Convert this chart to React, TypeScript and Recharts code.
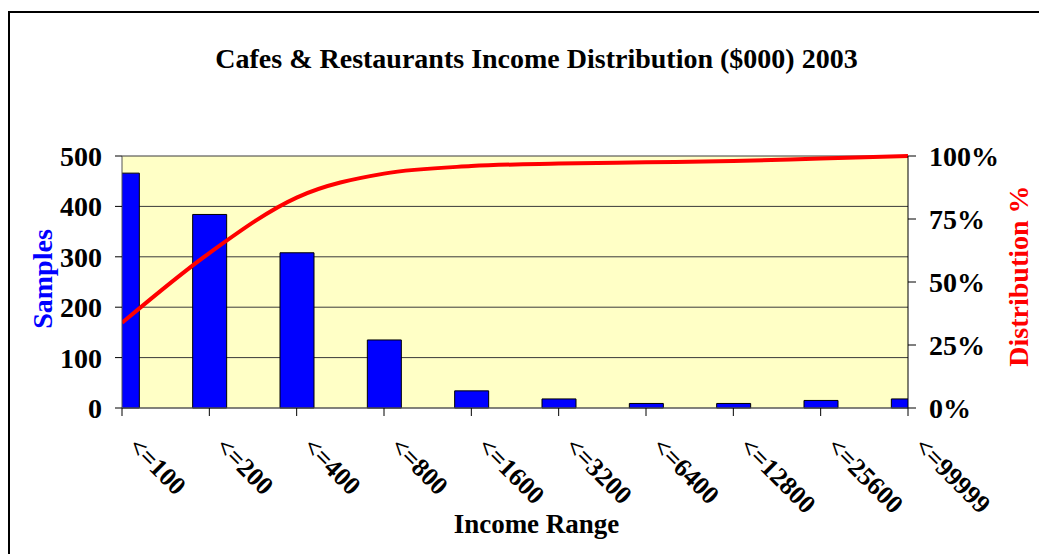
import React from 'react';
import { ComposedChart, Bar, Line, XAxis, YAxis, CartesianGrid } from 'recharts';

const RANGES = ['<=100', '<=200', '<=400', '<=800', '<=1600', '<=3200', '<=6400', '<=12800', '<=25600', '<=99999'];
const SAMPLES = [466, 384, 308, 135, 34, 18, 9, 9, 15, 18];
const DISTRIBUTION = [33.8, 61.5, 83.5, 93, 96, 97, 97.5, 98, 99, 100];
const LEFT_TICKS = [0, 100, 200, 300, 400, 500];
const RIGHT_TICKS = [0, 25, 50, 75, 100];
const X_TICKS = RANGES.map((_, i) => i);

const FONT = '"Liberation Serif", "Times New Roman", serif';

const data = RANGES.map((range, i) => ({
  i,
  range,
  samples: SAMPLES[i],
  dist: DISTRIBUTION[i],
}));

const tickStyle = { fontSize: 28, fontWeight: 'bold', fill: '#000', fontFamily: FONT };

function RangeTick({ x, y, payload }: any) {
  return (
    <g transform={`translate(${x + 5},${y + 30})`}>
      <text
        x={0}
        y={0}
        transform="rotate(45)"
        textAnchor="start"
        fontSize={26}
        fontWeight="bold"
        fontFamily={FONT}
        fill="#000"
      >
        {RANGES[payload.value]}
      </text>
    </g>
  );
}

export default function App() {
  return (
    <div
      style={{
        position: 'relative',
        marginTop: 3,
        width: 1032,
        height: 543,
        borderTop: '2px solid #000',
        borderLeft: '2px solid #000',
        boxSizing: 'border-box',
        fontFamily: FONT,
      }}
    >
      <div
        style={{
          position: 'absolute',
          top: 31.5,
          left: 526.5,
          transform: 'translateX(-50%)',
          whiteSpace: 'nowrap',
          fontSize: 28,
          lineHeight: '28px',
          fontWeight: 'bold',
          color: '#000',
        }}
      >
        Cafes &amp; Restaurants Income Distribution ($000) 2003
      </div>
      <div style={{ position: 'absolute', top: 0, left: 0, width: 1030, height: 541 }}>
        <ComposedChart
          width={1030}
          height={541}
          data={data}
          margin={{ top: 143, right: 0, bottom: 0, left: 0 }}
        >
          <CartesianGrid yAxisId="left" vertical={false} fill="#FFFFC6" fillOpacity={1} stroke="#3a3a3a" />
          <XAxis
            dataKey="i"
            type="number"
            domain={[0, 9]}
            ticks={X_TICKS}
            allowDataOverflow
            interval={0}
            height={146}
            tickSize={8}
            tick={<RangeTick />}
            axisLine={{ stroke: '#666' }}
            tickLine={{ stroke: '#000' }}
            label={{
              value: 'Income Range',
              position: 'center',
              dx: 21.5,
              dy: 42.5,
              style: { fontSize: 27, fontWeight: 'bold', fill: '#000', fontFamily: FONT },
            }}
          />
          <YAxis
            yAxisId="left"
            orientation="left"
            width={112}
            domain={[0, 500]}
            ticks={LEFT_TICKS}
            tickSize={7}
            tickMargin={13}
            tick={tickStyle}
            axisLine={{ stroke: '#555' }}
            tickLine={{ stroke: '#000' }}
            label={{
              value: 'Samples',
              angle: -90,
              position: 'center',
              dx: -24.3,
              dy: -3,
              style: { fontSize: 28, fontWeight: 'bold', fill: '#0000FF', fontFamily: FONT, textAnchor: 'middle' },
            }}
          />
          <YAxis
            yAxisId="right"
            orientation="right"
            width={132}
            domain={[0, 100]}
            ticks={RIGHT_TICKS}
            tickFormatter={(v: number) => `${v}%`}
            tickSize={8}
            tickMargin={13}
            tick={{ ...tickStyle, textAnchor: 'start' }}
            axisLine={{ stroke: '#000' }}
            tickLine={{ stroke: '#000' }}
            label={{
              value: 'Distribution %',
              angle: -90,
              position: 'center',
              dx: 44,
              dy: -6,
              style: { fontSize: 28, fontWeight: 'bold', fill: '#FF0000', fontFamily: FONT, textAnchor: 'middle' },
            }}
          />
          <Bar
            yAxisId="left"
            dataKey="samples"
            barSize={34}
            fill="#0000FF"
            stroke="#000"
            strokeWidth={1}
            isAnimationActive={false}
          />
          <Line
            yAxisId="right"
            dataKey="dist"
            type="monotone"
            stroke="#FF0000"
            strokeWidth={4}
            dot={false}
            activeDot={false}
            isAnimationActive={false}
          />
        </ComposedChart>
      </div>
    </div>
  );
}
